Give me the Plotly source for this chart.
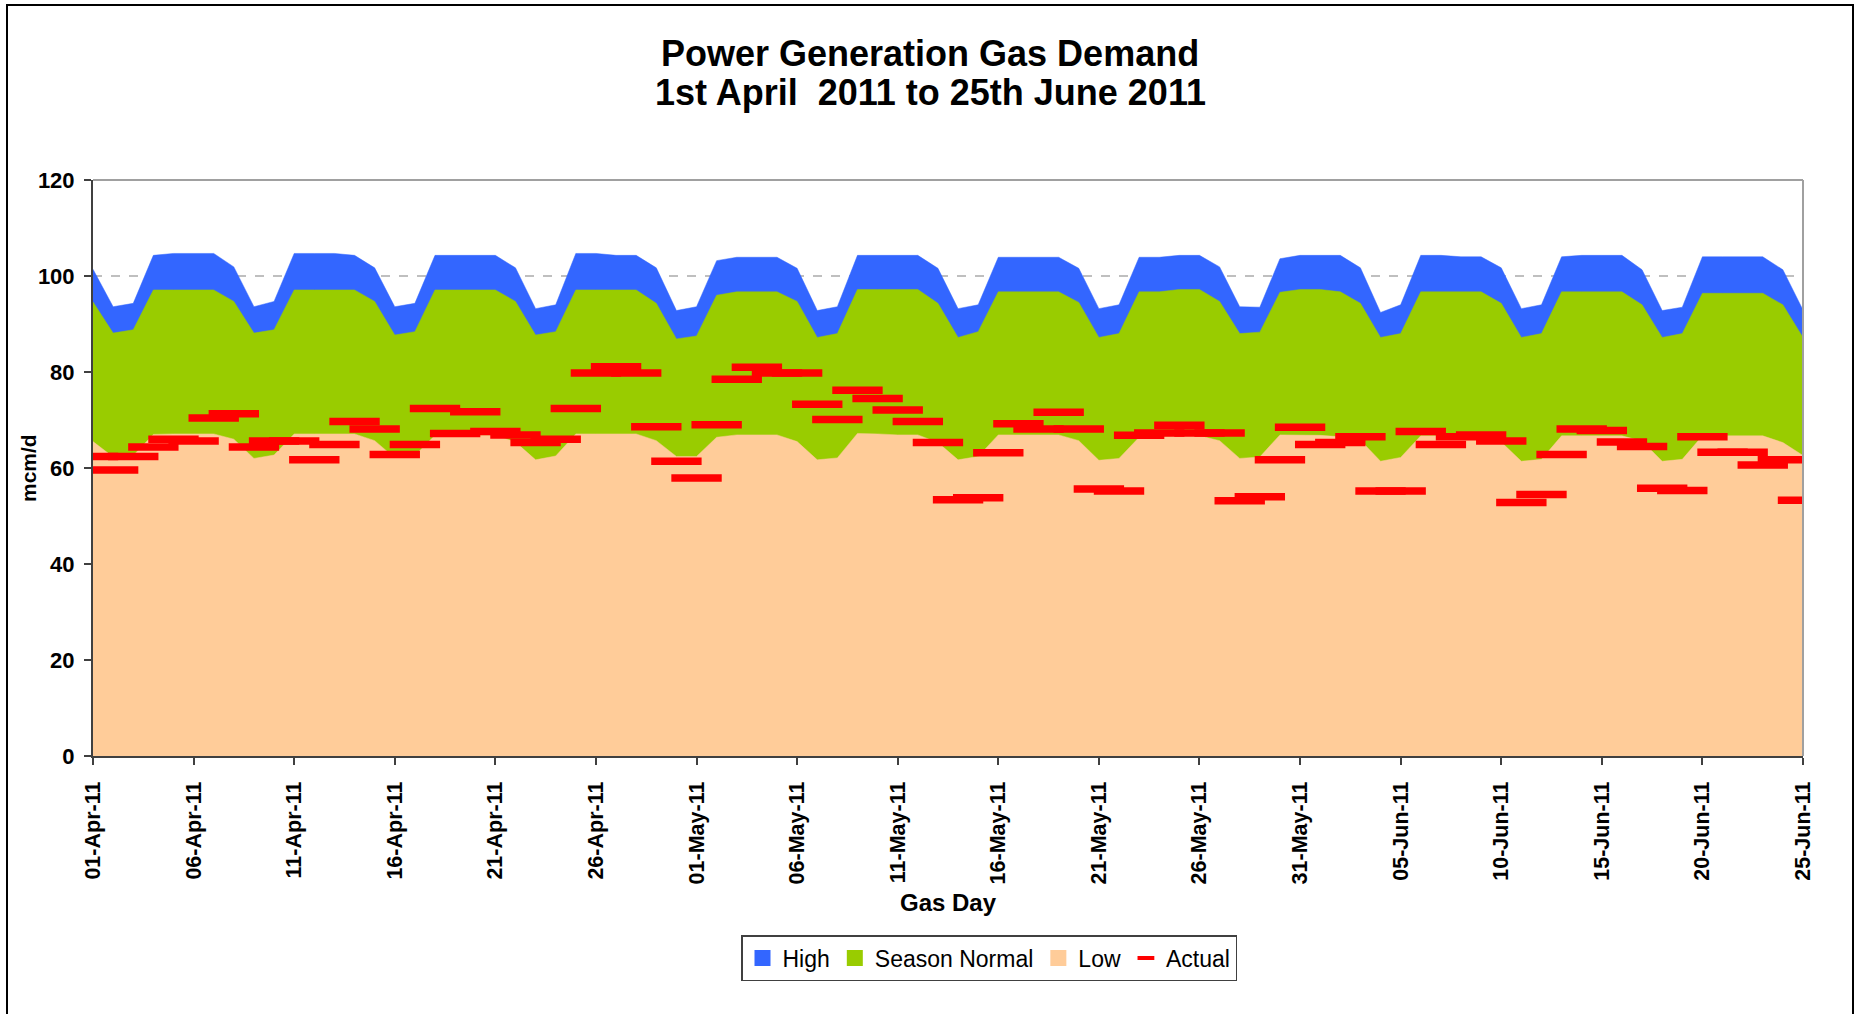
import pandas as pd
import plotly.graph_objects as go

# Gas days: 1 April 2011 to 25 June 2011
gas_days = pd.date_range("2011-04-01", "2011-06-25", freq="D").strftime("%Y-%m-%d").tolist()

high = [101.4, 93.6, 94.3, 104.3, 104.7, 104.7, 104.7, 101.9, 93.6, 94.7,
        104.7, 104.7, 104.7, 104.3, 101.7, 93.6, 94.3, 104.3, 104.3, 104.3,
        104.3, 101.7, 93.2, 94.0, 104.7, 104.7, 104.3, 104.3, 101.7, 92.8,
        93.6, 103.2, 103.9, 103.9, 103.9, 101.6, 92.8, 93.6, 104.3, 104.3,
        104.3, 104.3, 101.6, 93.2, 94.0, 103.9, 103.9, 103.9, 103.9, 101.6,
        93.2, 94.0, 103.9, 103.9, 104.3, 104.3, 101.9, 93.6, 93.5, 103.6,
        104.3, 104.3, 104.3, 101.7, 92.4, 94.0, 104.3, 104.3, 104.0, 104.0,
        101.7, 93.2, 94.0, 104.0, 104.3, 104.3, 104.3, 101.3, 92.8, 93.5,
        104.0, 104.0, 104.0, 104.0, 101.3, 92.9]

season_normal = [94.6, 88.1, 88.8, 97.1, 97.1, 97.1, 97.1, 94.7, 88.1, 88.8,
                 97.1, 97.1, 97.1, 97.1, 94.7, 87.7, 88.4, 97.1, 97.1, 97.1,
                 97.1, 94.7, 87.7, 88.4, 97.1, 97.1, 97.1, 97.1, 94.3, 86.9,
                 87.5, 96.0, 96.7, 96.7, 96.7, 94.7, 87.2, 88.0, 97.2, 97.2,
                 97.2, 97.2, 94.3, 87.2, 88.4, 96.7, 96.7, 96.7, 96.7, 94.5,
                 87.2, 88.0, 96.7, 96.7, 97.2, 97.2, 94.7, 88.0, 88.3, 96.6,
                 97.2, 97.2, 96.7, 94.3, 87.2, 88.0, 96.7, 96.7, 96.7, 96.7,
                 94.3, 87.2, 88.0, 96.7, 96.7, 96.7, 96.7, 94.0, 87.2, 88.0,
                 96.4, 96.4, 96.4, 96.4, 94.0, 87.2]

low = [65.5, 62.3, 62.6, 67.0, 67.1, 67.1, 67.1, 66.0, 62.0, 62.7,
       67.1, 67.1, 67.1, 67.1, 65.7, 62.1, 62.6, 66.8, 66.8, 66.8,
       66.8, 65.4, 61.7, 62.5, 67.1, 67.1, 67.1, 67.1, 65.7, 62.4,
       62.4, 66.4, 66.9, 66.9, 66.9, 65.5, 61.7, 62.1, 67.2, 67.1,
       66.9, 66.9, 65.3, 61.7, 62.4, 66.9, 66.9, 66.9, 66.9, 65.7,
       61.6, 62.0, 66.4, 66.5, 66.7, 66.7, 65.7, 62.0, 62.3, 66.9,
       66.9, 66.8, 66.5, 65.8, 61.4, 62.2, 66.7, 66.7, 66.7, 66.7,
       65.4, 61.4, 61.8, 66.7, 66.7, 66.7, 66.7, 65.6, 61.4, 61.8,
       66.7, 66.7, 66.7, 66.7, 65.3, 62.6]

actual = [62.4, 59.6, 62.4, 64.4, 66.0, 65.6, 70.4, 71.3, 64.4, 65.6,
          65.6, 61.7, 64.9, 69.7, 68.1, 62.8, 64.9, 72.4, 67.2, 71.7,
          67.6, 66.9, 65.3, 66.0, 72.4, 79.8, 81.1, 79.8, 68.6, 61.4,
          57.9, 69.0, 78.5, 81.0, 79.8, 79.8, 73.3, 70.1, 76.2, 74.5,
          72.1, 69.7, 65.3, 53.4, 53.8, 63.2, 69.2, 68.1, 71.6, 68.1,
          55.6, 55.2, 66.8, 67.3, 68.9, 67.3, 67.3, 53.2, 54.0, 61.7,
          68.5, 64.9, 65.3, 66.5, 55.2, 55.2, 67.6, 64.9, 66.5, 66.9,
          65.6, 52.8, 54.5, 62.8, 68.1, 67.8, 65.4, 64.5, 55.8, 55.3,
          66.5, 63.3, 63.3, 60.6, 61.7, 53.3]

series_names = ["High", "Season Normal", "Low", "Actual"]
colors = {"High": "#3366FF", "Season Normal": "#99CC00", "Low": "#FFCC99", "Actual": "#FF0000"}
title_lines = ["Power Generation Gas Demand", "1st April  2011 to 25th June 2011"]

FONT = "Liberation Sans, Arial, sans-serif"

fig = go.Figure()

# Overlapping areas, drawn back to front
for name, vals in [("High", high), ("Season Normal", season_normal), ("Low", low)]:
    fig.add_trace(go.Scatter(
        x=gas_days, y=vals, name=name, mode="lines", fill="tozeroy",
        fillcolor=colors[name], line=dict(color=colors[name], width=0.5),
        showlegend=False, legendgroup=name, hoverinfo="x+y+name"))

# Actual as red dash markers
fig.add_trace(go.Scatter(
    x=gas_days, y=actual, name="Actual", mode="markers",
    marker=dict(symbol="line-ew", size=36, color=colors["Actual"],
                line=dict(color=colors["Actual"], width=7.5)),
    showlegend=False, legendgroup="Actual"))

# Legend entries
for name in series_names:
    if name == "Actual":
        mk = dict(symbol="line-ew", size=12, color=colors[name],
                  line=dict(color=colors[name], width=4))
    else:
        mk = dict(symbol="square", size=16, color=colors[name], line=dict(width=0))
    fig.add_trace(go.Scatter(x=[None], y=[None], mode="markers", name=name,
                             marker=mk, legendgroup=name, showlegend=True))

L, R, T, B = 93, 57, 180, 258
W, H = 1860, 1014
pw = W - L - R
ph = H - T - B

def px_x(x):
    return (x - L) / pw

def px_y(y):
    return (H - B - y) / ph

annotations = []
for line, yc in zip(title_lines, [53.5, 92]):
    annotations.append(dict(text=line, xref="paper", yref="paper", x=px_x(930), y=px_y(yc),
                            xanchor="center", yanchor="middle", showarrow=False,
                            font=dict(family=FONT, size=36, weight="bold", color="black")))
annotations += [
    dict(text="Gas Day", xref="paper", yref="paper", x=px_x(948), y=px_y(902),
         xanchor="center", yanchor="middle", showarrow=False,
         font=dict(family=FONT, size=24, weight="bold", color="black")),
    dict(text="mcm/d", xref="paper", yref="paper", x=px_x(28), y=0.5, textangle=-90,
         xanchor="center", yanchor="middle", showarrow=False,
         font=dict(family=FONT, size=21, weight="bold", color="black")),
]

fig.update_layout(
    width=W, height=H,
    margin=dict(l=L, r=R, t=T, b=B, pad=0),
    paper_bgcolor="white", plot_bgcolor="white",
    font=dict(family=FONT, color="black"),
    showlegend=True,
    legend=dict(orientation="h", x=px_x(989), xanchor="center", y=px_y(935), yanchor="top",
                font=dict(family=FONT, size=23, color="black"),
                bgcolor="white", bordercolor="#404040", borderwidth=1.5,
                itemsizing="trace", traceorder="normal"),
    xaxis=dict(type="date", range=["2011-04-01", "2011-06-25"],
               tick0="2011-04-01", dtick=5 * 86400000, tickformat="%d-%b-%y",
               tickangle=-90, ticks="outside", ticklen=7, tickwidth=1.5, tickcolor="#404040",
               showline=True, linecolor="#404040", linewidth=2,
               showgrid=False, zeroline=False, ticklabelstandoff=8,
               tickfont=dict(family=FONT, size=21.5, weight="bold", color="black")),
    yaxis=dict(range=[0, 120], dtick=20, tick0=0,
               ticks="outside", ticklen=7, tickwidth=1.5, tickcolor="#404040",
               showline=True, linecolor="#404040", linewidth=2,
               showgrid=True, gridcolor="#BFBFBF", griddash="dash", gridwidth=1.5,
               zeroline=False, ticklabelstandoff=5,
               tickfont=dict(family=FONT, size=22, weight="bold", color="black")),
    annotations=annotations,
    shapes=[
        dict(type="line", xref="paper", yref="paper", x0=0, x1=1, y0=1, y1=1,
             line=dict(color="#A0A0A0", width=2), layer="above"),
        dict(type="line", xref="paper", yref="paper", x0=1, x1=1, y0=0, y1=1,
             line=dict(color="#A0A0A0", width=2), layer="above"),
        dict(type="rect", xref="paper", yref="paper",
             x0=px_x(7), x1=px_x(1853), y0=px_y(1030), y1=px_y(5),
             line=dict(color="black", width=2), fillcolor="rgba(0,0,0,0)", layer="above"),
    ],
)

fig.write_html("out.html", config={"displayModeBar": False},
               post_script="document.body.style.margin='0px';document.body.style.overflow='hidden';")
